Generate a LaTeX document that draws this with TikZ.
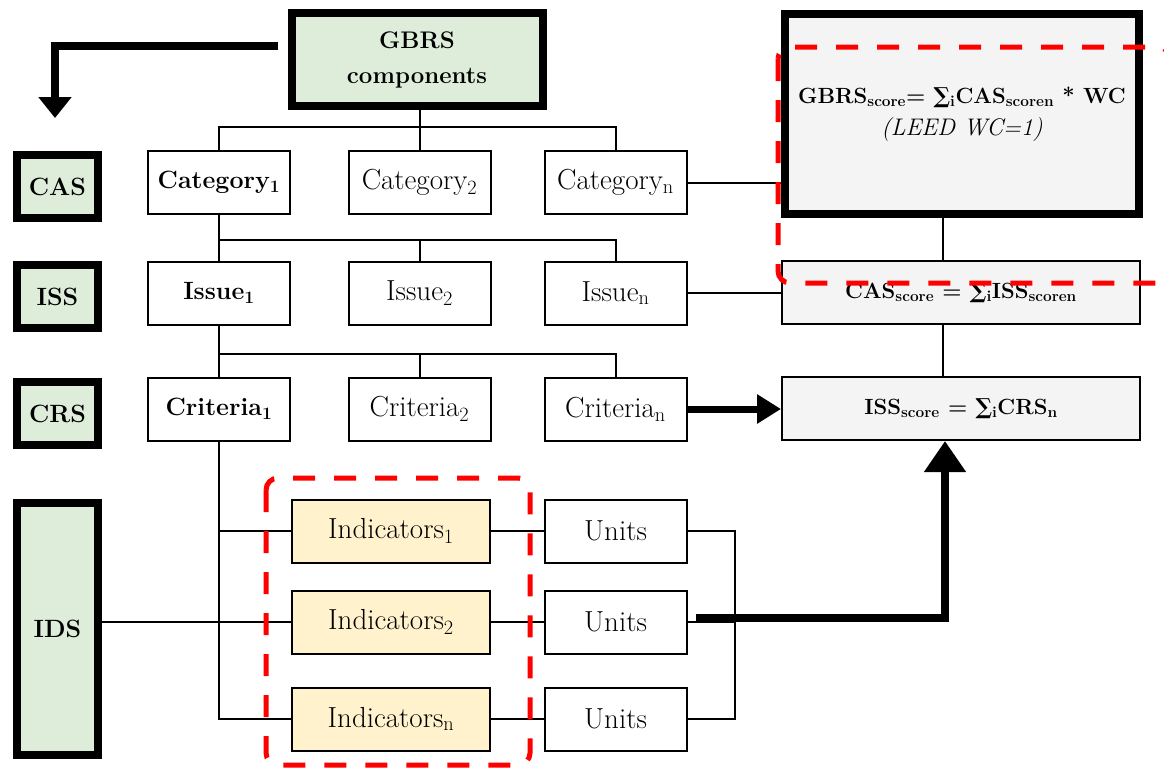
\documentclass[tikz,border=0pt]{standalone}
\usepackage{fontspec}
\usepackage{xcolor}
\usepackage{tikz}
\usetikzlibrary{arrows.meta}
\newfontfamily\sumfont{DejaVu Serif}
\definecolor{Level-green}{RGB}{221,237,218}
\definecolor{Ind-yellow}{RGB}{255,242,204}
\definecolor{Score-grey}{RGB}{244,244,244}
\newcommand{\lo}[1]{\textsubscript{#1}}
\newcommand{\sumi}{{\sumfont ∑}\lo{i}}
\tikzstyle{box}=[rectangle,draw=black,line width=2pt,fill=white,inner sep=0pt,minimum width=142pt,minimum height=63pt,font=\fontsize{29}{34}\selectfont]
\tikzstyle{first}=[font=\bfseries\fontsize{25}{30}\selectfont]
\tikzstyle{lvl}=[box,first,line width=8pt,fill=Level-green,minimum width=81pt]
\tikzstyle{ind}=[box,fill=Ind-yellow,minimum width=198pt]
\tikzstyle{score}=[box,fill=Score-grey,minimum width=358pt,font=\bfseries\fontsize{22}{27}\selectfont]
\tikzstyle{e}=[line width=2pt]
\tikzstyle{fat}=[line width=8pt,-{Triangle[length=21pt,width=32pt]}]
\tikzstyle{red box}=[draw=red,line width=5pt,dash pattern=on 22pt off 19pt,rounded corners=12pt]

\begin{document}
\begin{tikzpicture}[x=1pt,y=-1pt]
\useasboundingbox (0,0) rectangle (1164,769);

% Nodes
\node[lvl] (cas)   at (57.5,186.5) {CAS};
\node[lvl] (iss)   at (57.5,296.5) {ISS};
\node[lvl] (crs)   at (57.5,413.5) {CRS};
\node[lvl,minimum height=252pt] (ids) at (57.5,629) {IDS};

\node[lvl,align=center,minimum width=251pt,minimum height=93pt,font=\bfseries\fontsize{24}{35}\selectfont] (gbrs) at (417,59.5) {GBRS\\components};

\node[box,first] (cat1) at (219,182.5) {Category\lo{1}};
\node[box] (cat2)  at (419.5,182.5) {Category\lo{2}};
\node[box] (catn)  at (615.5,182.5) {Category\lo{n}};
\node[box,first] (iss1) at (219,293) {Issue\lo{1}};
\node[box] (iss2)  at (419.5,293) {Issue\lo{2}};
\node[box] (issn)  at (615.5,293) {Issue\lo{n}};
\node[box,first] (crit1) at (219,409) {Criteria\lo{1}};
\node[box] (crit2) at (419.5,409) {Criteria\lo{2}};
\node[box] (critn) at (615.5,409) {Criteria\lo{n}};

\node[ind] (ind1)  at (391,531) {Indicators\lo{1}};
\node[ind] (ind2)  at (391,622) {Indicators\lo{2}};
\node[ind] (indn)  at (391,719) {Indicators\lo{n}};
\node[box] (unit1) at (615.5,531) {Units};
\node[box] (unit2) at (615.5,622) {Units};
\node[box] (unitn) at (615.5,719) {Units};

\node[score,line width=8pt,minimum width=354pt,minimum height=200pt,align=center,font=\bfseries\fontsize{22}{32}\selectfont] (gscore) at (962,114)
  {GBRS\lo{score}= \sumi CAS\lo{scoren} * WC\\\mdseries\itshape\fontsize{24}{32}\selectfont (LEED WC=1)};
\node[score] (cscore) at (961,292.5) {CAS\lo{score} = \sumi ISS\lo{scoren}};
\node[score] (iscore) at (961,408.5) {ISS\lo{score} = \sumi CRS\lo{n}};

\coordinate (bus cat)  at (0,127);
\coordinate (bus iss)  at (0,240);
\coordinate (bus crit) at (0,354);
\coordinate (unit bus) at (735,0);
\coordinate (spine)    at (943,0);
\coordinate (cas tip)  at (55,118);

% Edges
\draw[e] (cat2.north) -- (cat2.north |- gbrs.south);
\draw[e] (cat1.north) |- (catn.north |- bus cat) -- (catn.north);
\draw[e] (cat1.south) -- (iss1.north);
\draw[e] (iss1.north |- bus iss) -| (issn.north);
\draw[e] (iss2.north) -- (iss2.north |- bus iss);
\draw[e] (iss1.south) -- (crit1.north);
\draw[e] (crit1.north |- bus crit) -| (critn.north);
\draw[e] (crit2.north) -- (crit2.north |- bus crit);
\draw[e] (crit1.south) |- (ind1.west);
\draw[e] (crit1.south) |- (indn.west);
\draw[e] (ids.east |- ind2.west) -- (ind2.west);
\foreach \r in {1,2,n}
  \draw[e] (ind\r.east) -- (unit\r.west);
\draw[e] (unit1.east) -| (unit bus |- unitn.east) -- (unitn.east);
\draw[e] (unit2.east) -- (unit bus |- unit2.east);
\draw[e] (catn.east) -- (gscore.west |- catn.east);
\draw[e] (issn.east) -- (cscore.west |- issn.east);
\draw[e] (spine |- gscore.south) -- (spine |- cscore.north);
\draw[e] (spine |- cscore.south) -- (spine |- iscore.north);

\draw[fat] ([xshift=-10pt,yshift=14pt]gbrs.west) -| (cas tip);
\draw[fat,line width=7pt,-{Triangle[length=24pt,width=28pt]}] (critn.east) -- (iscore.west |- critn.east);
\draw[fat,-{Triangle[length=31pt,width=40pt]}] ([xshift=8pt,yshift=4pt]unit2.east) -| ([xshift=-16pt]iscore.south);

% Red frames
\begin{scope}
\clip (0,0) rectangle (1164,769);
\draw[red box] (778,47) rectangle (1170,283);
\draw[red box] (266,478) rectangle (530,765);
\end{scope}

\end{tikzpicture}
\end{document}
